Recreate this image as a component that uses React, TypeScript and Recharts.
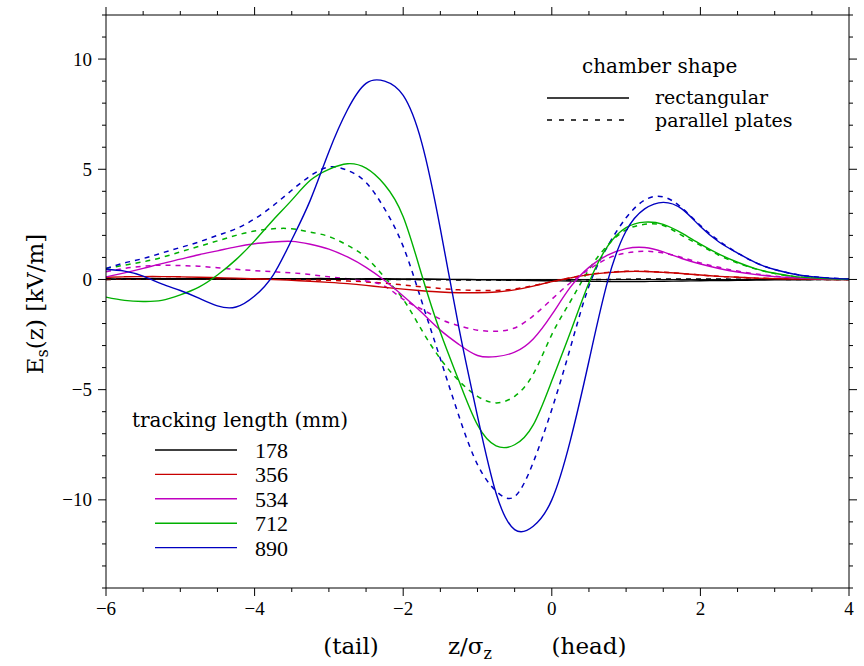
import React from 'react';
import { LineChart, Line, XAxis, YAxis, ReferenceLine } from 'recharts';

// z / sigma_z sample positions
const zValues = [
  -6, -5.75, -5.5, -5.25, -5, -4.75, -4.5, -4.25, -4, -3.75, -3.5, -3.25, -3, -2.75, -2.5, -2.25,
  -2, -1.75, -1.5, -1.25, -1, -0.75, -0.5, -0.25, 0, 0.25, 0.5, 0.75, 1, 1.25, 1.5, 1.75, 2, 2.25,
  2.5, 2.75, 3, 3.25, 3.5, 3.75, 4,
];

// tracking length 178 mm
const rect178 = [0.03,0.03,0.04,0.04,0.04,0.04,0.04,0.04,0.04,0.04,0.04,0.04,0.04,0.03,0.03,0.03,0.02,0.02,0.01,0.0,-0.01,-0.02,-0.03,-0.05,-0.06,-0.07,-0.08,-0.09,-0.09,-0.09,-0.08,-0.07,-0.06,-0.05,-0.04,-0.03,-0.02,-0.01,-0.01,0,0];
const plates178 = [0,0.01,0.01,0.01,0.01,0.01,0.01,0.01,0.01,0.01,0.01,0.01,0.01,0.01,0.01,0,0,-0.01,-0.01,-0.02,-0.02,-0.03,-0.03,-0.03,-0.03,-0.02,-0.01,0,0.01,0.02,0.02,0.02,0.02,0.02,0.01,0.01,0.01,0,0,0,0];
// 356 mm
const rect356 = [0.1,0.12,0.13,0.13,0.12,0.1,0.08,0.06,0.03,0,-0.04,-0.08,-0.13,-0.19,-0.27,-0.36,-0.44,-0.51,-0.57,-0.6,-0.6,-0.57,-0.47,-0.3,-0.1,0.07,0.22,0.31,0.36,0.36,0.32,0.27,0.2,0.14,0.1,0.06,0.04,0.02,0.01,0,0];
const plates356 = [0,0.02,0.03,0.04,0.04,0.04,0.03,0.03,0.02,0.01,0,-0.02,-0.04,-0.07,-0.11,-0.17,-0.25,-0.33,-0.41,-0.47,-0.5,-0.5,-0.43,-0.28,-0.1,0.08,0.23,0.32,0.37,0.37,0.33,0.27,0.2,0.14,0.1,0.06,0.04,0.02,0.01,0,0];
// 534 mm
const rect534 = [0.12,0.3,0.5,0.72,0.92,1.12,1.3,1.48,1.62,1.7,1.73,1.6,1.38,1.02,0.55,-0.05,-0.75,-1.5,-2.3,-2.95,-3.45,-3.5,-3.3,-2.7,-1.6,-0.35,0.55,1.1,1.4,1.45,1.25,0.95,0.7,0.5,0.34,0.22,0.13,0.08,0.04,0.02,0.01];
const plates534 = [0.35,0.5,0.6,0.65,0.63,0.6,0.53,0.46,0.4,0.35,0.3,0.22,0.12,0.03,-0.07,-0.3,-0.9,-1.35,-1.8,-2.1,-2.3,-2.35,-2.2,-1.65,-0.9,-0.15,0.45,0.95,1.2,1.28,1.2,1.0,0.75,0.55,0.38,0.25,0.15,0.09,0.05,0.02,0.01];
// 712 mm
const rect712 = [-0.8,-0.95,-1.0,-0.95,-0.7,-0.35,0.2,0.9,1.75,2.7,3.6,4.5,5.0,5.25,5.05,4.3,2.85,0.2,-2.4,-4.6,-6.6,-7.55,-7.5,-6.6,-4.6,-2.4,-0.15,1.5,2.35,2.6,2.5,2.1,1.6,1.15,0.78,0.48,0.28,0.14,0.07,0.03,0.01];
const plates712 = [0.5,0.65,0.8,1.0,1.25,1.5,1.75,2.0,2.2,2.3,2.3,2.15,1.95,1.55,1.0,0.1,-0.9,-2.3,-3.6,-4.6,-5.3,-5.6,-5.3,-4.3,-2.5,-1.0,0.45,1.55,2.25,2.5,2.45,2.0,1.55,1.1,0.75,0.47,0.27,0.14,0.07,0.03,0.01];
// 890 mm
const rect890 = [0.45,0.38,0.15,-0.2,-0.5,-0.85,-1.2,-1.25,-0.75,0.2,1.8,3.6,5.8,7.7,8.9,9.0,8.35,6.2,2.3,-2.2,-6.2,-9.7,-11.35,-11.2,-10.0,-7.3,-3.7,-0.1,2.2,3.2,3.5,3.2,2.4,1.7,1.2,0.75,0.45,0.25,0.13,0.06,0.02];
const plates890 = [0.5,0.75,0.95,1.2,1.45,1.7,2.0,2.3,2.75,3.35,4.05,4.7,5.1,4.95,4.4,3.2,1.5,-1.0,-3.6,-6.2,-8.4,-9.6,-9.85,-8.3,-5.9,-3.1,-0.3,1.5,2.8,3.6,3.75,3.25,2.45,1.75,1.2,0.75,0.45,0.25,0.13,0.06,0.02];

const trackingLengths = ['178', '356', '534', '712', '890'];
const colors = ['#000000', '#c80000', '#c000c0', '#00b000', '#0000c0'];
const rectSeries = [rect178, rect356, rect534, rect712, rect890];
const platesSeries = [plates178, plates356, plates534, plates712, plates890];

const xTicks = [-6,-5.5,-5,-4.5,-4,-3.5,-3,-2.5,-2,-1.5,-1,-0.5,0,0.5,1,1.5,2,2.5,3,3.5,4];
const xMajor = [-6, -4, -2, 0, 2, 4];
const yTicks = [-14,-13,-12,-11,-10,-9,-8,-7,-6,-5,-4,-3,-2,-1,0,1,2,3,4,5,6,7,8,9,10,11,12];
const yMajor = [-10, -5, 0, 5, 10];

const rows = zValues.map((z, i) => {
  const r: any = { z };
  trackingLengths.forEach((t, k) => {
    r['r' + t] = rectSeries[k][i];
    r['p' + t] = platesSeries[k][i];
  });
  return r;
});

const fmt = (v: number) => (v < 0 ? '\u2212' + Math.abs(v) : String(v));
const isMajor = (v: number, majors: number[]) => majors.some((m) => Math.abs(m - v) < 1e-9);
const NUM_FONT = 'Liberation Serif';
const TXT_FONT = 'DejaVu Serif';

const makeTick = (side: 'bottom' | 'top' | 'left' | 'right', majors: number[]) => (props: any) => {
  const { x, y, payload } = props;
  const v = payload.value;
  const major = isMajor(v, majors);
  const len = major ? 8 : 4;
  if (side === 'bottom') {
    return (
      <g>
        <line x1={x} y1={y} x2={x} y2={y + len} stroke="#000" strokeWidth={1} />
        {major && (
          <text x={x} y={y + 27} textAnchor="middle" fontFamily={NUM_FONT} fontSize={19} fill="#000">
            {fmt(v)}
          </text>
        )}
      </g>
    );
  }
  if (side === 'top') {
    return <line x1={x} y1={y} x2={x} y2={y - len} stroke="#000" strokeWidth={1} />;
  }
  if (side === 'left') {
    return (
      <g>
        <line x1={x} y1={y} x2={x - len} y2={y} stroke="#000" strokeWidth={1} />
        {major && (
          <text x={x - 14} y={y + 6.5} textAnchor="end" fontFamily={NUM_FONT} fontSize={19} fill="#000">
            {fmt(v)}
          </text>
        )}
      </g>
    );
  }
  return <line x1={x} y1={y} x2={x + len} y2={y} stroke="#000" strokeWidth={1} />;
};

const bottomTick = makeTick('bottom', xMajor);
const topTick = makeTick('top', xMajor);
const leftTick = makeTick('left', yMajor);
const rightTick = makeTick('right', yMajor);

export default function App() {
  return (
    <div style={{ position: 'absolute', left: 0, top: 0, width: 864, height: 666, background: '#fff' }}>
      <LineChart width={864} height={666} data={rows} margin={{ top: 0, right: 0, bottom: 0, left: 0 }}>
        <XAxis xAxisId="b" dataKey="z" type="number" domain={[-6, 4]} ticks={xTicks} interval={0}
          height={78} tickSize={0} tickMargin={0} tickLine={false} axisLine={{ stroke: '#000' }}
          tick={bottomTick} allowDataOverflow />
        <XAxis xAxisId="t" orientation="top" dataKey="z" type="number" domain={[-6, 4]} ticks={xTicks}
          interval={0} height={15} tickSize={0} tickMargin={0} tickLine={false} axisLine={{ stroke: '#000' }}
          tick={topTick} allowDataOverflow />
        <YAxis yAxisId="l" type="number" domain={[-14, 12]} ticks={yTicks} interval={0} width={106}
          tickSize={0} tickMargin={0} tickLine={false} axisLine={{ stroke: '#000' }} tick={leftTick}
          allowDataOverflow />
        <YAxis yAxisId="r" orientation="right" type="number" domain={[-14, 12]} ticks={yTicks} interval={0}
          width={15} tickSize={0} tickMargin={0} tickLine={false} axisLine={{ stroke: '#000' }}
          tick={rightTick} allowDataOverflow />
        <ReferenceLine xAxisId="b" yAxisId="l" y={0} stroke="#000" strokeWidth={1} />
        {trackingLengths.map((t, k) => (
          <Line key={'p' + t} xAxisId="b" yAxisId="l" dataKey={'p' + t} type="natural" stroke={colors[k]}
            strokeWidth={1.5} strokeDasharray="5 5" dot={false} activeDot={false} isAnimationActive={false} />
        ))}
        {trackingLengths.map((t, k) => (
          <Line key={'r' + t} xAxisId="b" yAxisId="l" dataKey={'r' + t} type="natural" stroke={colors[k]}
            strokeWidth={1.4} dot={false} activeDot={false} isAnimationActive={false} />
        ))}
      </LineChart>
      <svg width={864} height={666} style={{ position: 'absolute', left: 0, top: 0, pointerEvents: 'none' }}>
        {/* y-axis title */}
        <text transform="translate(43,304) rotate(-90)" textAnchor="middle" fontFamily={TXT_FONT} fontSize={23} fill="#000">
          E<tspan fontSize={16} dy={5}>s</tspan><tspan dy={-5}>(z) [kV/m]</tspan>
        </text>
        {/* x-axis title */}
        <text x={351} y={654} textAnchor="middle" fontFamily={TXT_FONT} fontSize={23} fill="#000">(tail)</text>
        <text x={470} y={654} textAnchor="middle" fontFamily={TXT_FONT} fontSize={23} fill="#000">
          z/σ<tspan fontSize={16} dy={5}>z</tspan>
        </text>
        <text x={589} y={654} textAnchor="middle" fontFamily={TXT_FONT} fontSize={23} fill="#000">(head)</text>
        {/* chamber shape legend */}
        <text x={582} y={73} fontFamily={TXT_FONT} fontSize={20} fill="#000">chamber shape</text>
        <line x1={547} y1={98} x2={629} y2={98} stroke="#000" strokeWidth={1.4} />
        <text x={655} y={104} fontFamily={TXT_FONT} fontSize={19} fill="#000">rectangular</text>
        <line x1={547} y1={120} x2={629} y2={120} stroke="#000" strokeWidth={1.4} strokeDasharray="5 7" />
        <text x={655} y={127} fontFamily={TXT_FONT} fontSize={19} fill="#000">parallel plates</text>
        {/* tracking length legend */}
        <text x={132} y={427} fontFamily={TXT_FONT} fontSize={20} fill="#000">tracking length (mm)</text>
        {trackingLengths.map((t, k) => (
          <g key={t}>
            <line x1={155} y1={450 + k * 24.4} x2={237} y2={450 + k * 24.4} stroke={colors[k]} strokeWidth={1.4} />
            <text x={255} y={458 + k * 24.4} fontFamily={NUM_FONT} fontSize={22} fill="#000">{t}</text>
          </g>
        ))}
      </svg>
    </div>
  );
}
